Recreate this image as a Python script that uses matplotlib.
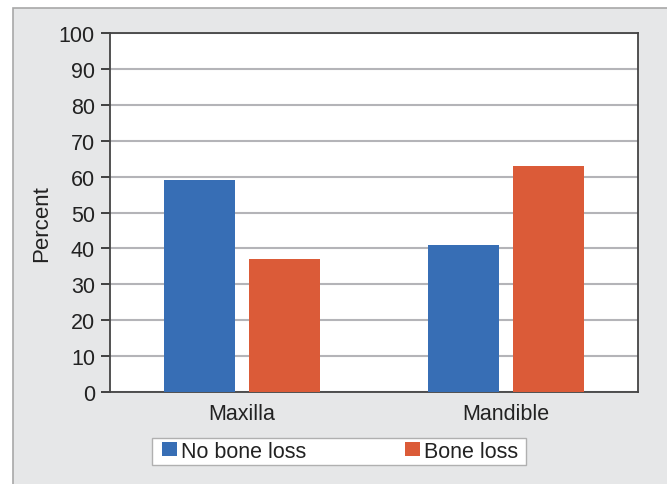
import numpy as np
import matplotlib
matplotlib.use("Agg")
import matplotlib.pyplot as plt
from matplotlib.patches import Rectangle, Patch

plt.rcParams['font.family'] = ['Liberation Sans', 'DejaVu Sans']

# Share of sites with / without bone loss by jaw
jaws = ['Maxilla', 'Mandible']
no_bone_loss = [59, 41]
bone_loss = [37, 63]
series_names = ['No bone loss', 'Bone loss']

blue = '#376eb5'
orange = '#db5b38'
text_col = '#222222'

W, H = 667, 485
fig = plt.figure(figsize=(W / 100, H / 100), dpi=100)
fig.patch.set_facecolor('white')

# grey panel behind the chart
panel = Rectangle((13 / W, -0.01), 1.0, 1 - 9 / H + 0.01, transform=fig.transFigure,
                  facecolor='#e6e7e8', edgecolor='#a8a8a8', linewidth=1.2, zorder=-5)
fig.patches.append(panel)

ax = fig.add_axes([110 / W, 1 - 393 / H, 528 / W, 359 / H])
ax.set_facecolor('white')

x = np.arange(len(jaws))
width = 0.271
off = 0.161
ax.bar(x - off, no_bone_loss, width, color=blue, zorder=3)
ax.bar(x + off, bone_loss, width, color=orange, zorder=3)

ax.set_xlim(-0.5, 1.5)
ax.set_ylim(0, 100)
ax.set_yticks(np.arange(0, 101, 10))
ax.yaxis.grid(True, color='#b4b4b8', linewidth=1.5, zorder=0)
ax.set_axisbelow(True)

ax.set_xticks(x)
ax.set_xticklabels(jaws)
ax.tick_params(axis='x', length=0, pad=8, labelsize=15.5, colors=text_col)
ax.tick_params(axis='y', length=6.5, width=1.3, pad=4.3, labelsize=15.5,
               color='#333333', labelcolor=text_col)

for s in ax.spines.values():
    s.set_color('#444444')
    s.set_linewidth(1.3)

ax.set_ylabel('Percent', fontsize=16, color=text_col)
ax.yaxis.set_label_coords(-0.11, 0.472)

# legend box, then a frameless legend laid inside it
box = Rectangle((152 / W, 1 - 466 / H), 374 / W, 27 / H, transform=fig.transFigure,
                facecolor='white', edgecolor='#b0b0b0', linewidth=1.0, zorder=2)
fig.patches.append(box)

handles = [Patch(facecolor=blue, edgecolor='none'), Patch(facecolor=orange, edgecolor='none')]
leg = fig.legend(handles, series_names, ncol=2, mode='expand',
                 bbox_to_anchor=(162 / W, 1 - 464 / H, 356 / W, 24 / H),
                 loc='center', fontsize=15.5, frameon=False,
                 handlelength=0.70, handleheight=0.65, handletextpad=0.19,
                 borderpad=0, borderaxespad=0)
leg.set_zorder(3)
for t in leg.get_texts():
    t.set_color(text_col)

fig.savefig('out.png', dpi=100)
